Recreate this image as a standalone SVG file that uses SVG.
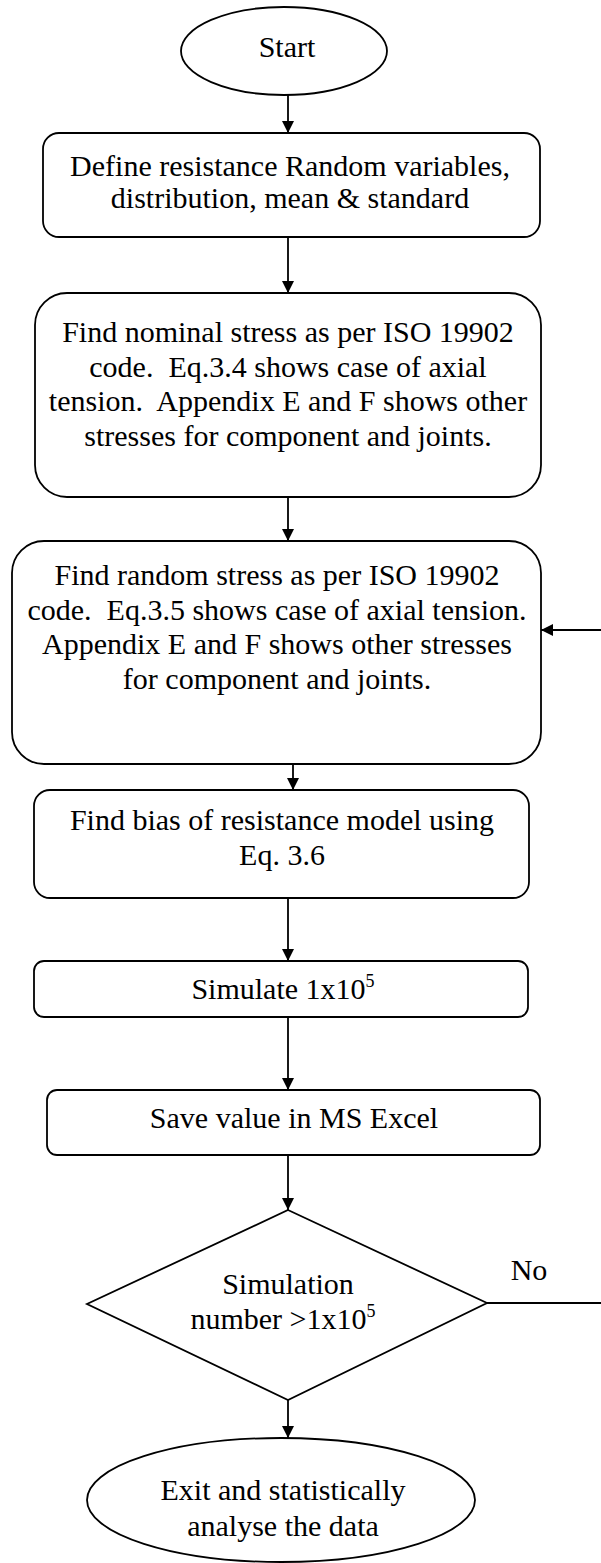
<svg xmlns="http://www.w3.org/2000/svg" width="601" height="1563" viewBox="0 0 601 1563" xml:space="preserve">
  <style>
    .shape { fill: #ffffff; stroke: #000000; stroke-width: 1.8; }
    .link { fill: none; stroke: #000000; stroke-width: 1.8; }
    .label { font-family: "Liberation Serif", "Times New Roman", serif; font-size: 30px; fill: #000000; text-anchor: middle; white-space: pre; }
    .sup { font-size: 18px; }
  </style>
  <defs>
    <marker id="arrow" viewBox="0 0 12 12" refX="12" refY="6" markerWidth="12" markerHeight="12" markerUnits="userSpaceOnUse" orient="auto">
      <path d="M0,0 L12,6 L0,12 Z" fill="#000000"/>
    </marker>
  </defs>
  <rect width="601" height="1563" fill="#ffffff"/>

  <g id="connectors">
    <line class="link" x1="288" y1="95" x2="288" y2="133" marker-end="url(#arrow)"/>
    <line class="link" x1="288" y1="237" x2="288" y2="293" marker-end="url(#arrow)"/>
    <line class="link" x1="288" y1="497" x2="288" y2="541" marker-end="url(#arrow)"/>
    <line class="link" x1="293" y1="764" x2="293" y2="790" marker-end="url(#arrow)"/>
    <line class="link" x1="288" y1="898" x2="288" y2="961" marker-end="url(#arrow)"/>
    <line class="link" x1="288" y1="1017" x2="288" y2="1090" marker-end="url(#arrow)"/>
    <line class="link" x1="288" y1="1155" x2="288" y2="1210" marker-end="url(#arrow)"/>
    <line class="link" x1="288" y1="1400" x2="288" y2="1438" marker-end="url(#arrow)"/>
    <!-- "No" branch loops back into the random-stress step -->
    <line class="link" x1="487" y1="1303" x2="601" y2="1303"/>
    <line class="link" x1="601" y1="630" x2="541" y2="630" marker-end="url(#arrow)"/>
    <text class="label" x="529" y="1280">No</text>
  </g>

  <g id="start">
    <ellipse class="shape" cx="284" cy="51" rx="103" ry="44"/>
    <text class="label" x="287" y="57">Start</text>
  </g>

  <g id="define-variables">
    <rect class="shape" x="43" y="133" width="497" height="104" rx="16"/>
    <text class="label" x="290" y="176">Define resistance Random variables,</text>
    <text class="label" x="290" y="208">distribution, mean &amp; standard</text>
  </g>

  <g id="nominal-stress">
    <rect class="shape" x="35" y="293" width="506" height="204" rx="32"/>
    <text class="label" x="288" y="342">Find nominal stress as per ISO 19902</text>
    <text class="label" x="288" y="376.5">code.  Eq.3.4 shows case of axial</text>
    <text class="label" x="288" y="411">tension.  Appendix E and F shows other</text>
    <text class="label" x="288" y="445.5">stresses for component and joints.</text>
  </g>

  <g id="random-stress">
    <rect class="shape" x="12" y="541" width="529" height="223" rx="32"/>
    <text class="label" x="277" y="585">Find random stress as per ISO 19902</text>
    <text class="label" x="277" y="619.5">code.  Eq.3.5 shows case of axial tension.</text>
    <text class="label" x="277" y="654">Appendix E and F shows other stresses</text>
    <text class="label" x="277" y="688.5">for component and joints.</text>
  </g>

  <g id="model-bias">
    <rect class="shape" x="34" y="790" width="495" height="108" rx="16"/>
    <text class="label" x="282" y="830">Find bias of resistance model using</text>
    <text class="label" x="282" y="865">Eq. 3.6</text>
  </g>

  <g id="simulate">
    <rect class="shape" x="34" y="961" width="494" height="56" rx="10"/>
    <text class="label" x="283" y="999">Simulate 1x10<tspan class="sup" dy="-12">5</tspan></text>
  </g>

  <g id="save-excel">
    <rect class="shape" x="47" y="1090" width="493" height="65" rx="10"/>
    <text class="label" x="294" y="1128">Save value in MS Excel</text>
  </g>

  <g id="count-check">
    <polygon class="shape" points="288,1210 487,1303 288,1400 87,1304"/>
    <text class="label" x="288" y="1294">Simulation</text>
    <text class="label" x="283" y="1329">number &gt;1x10<tspan class="sup" dy="-12">5</tspan></text>
  </g>

  <g id="exit">
    <ellipse class="shape" cx="281" cy="1500" rx="194" ry="62"/>
    <text class="label" x="283" y="1500">Exit and statistically</text>
    <text class="label" x="283" y="1536">analyse the data</text>
  </g>
</svg>
